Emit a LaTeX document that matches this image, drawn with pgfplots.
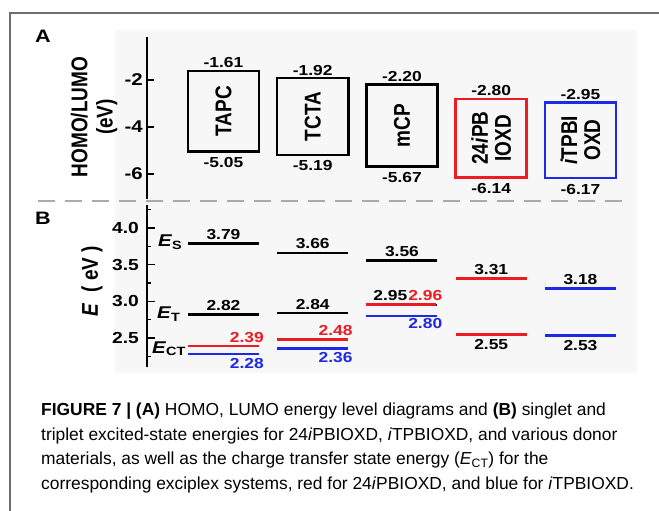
\documentclass[border=0pt]{standalone}
\usepackage{pgfplots}
\pgfplotsset{compat=1.18}
\usepackage{fontspec}
\setmainfont{Liberation Sans}
\newfontfamily\figfont[FakeStretch=1.2]{Liberation Sans}
\newcommand{\fs}[1]{\fontsize{#1bp}{#1bp}\selectfont}
\definecolor{lred}{RGB}{236,28,36}
\definecolor{lblue}{RGB}{30,40,230}
\definecolor{framegray}{RGB}{110,110,110}
\definecolor{dashgray}{RGB}{170,170,170}
\definecolor{bggray}{RGB}{247,247,247}
\begin{document}
\begin{tikzpicture}[x=1bp,y=1bp]
\useasboundingbox (0,0) rectangle (659,511);
% background of figure panels
\fill[bggray] (115,481) rectangle (637,138);
% frame
\draw[framegray, line width=1.5bp] (10,0) -- (10,498) -- (660,498);
% dashed separator
\draw[dashgray, line width=2.5bp, dash pattern=on 17bp off 10bp] (38,310) -- (627,310);
% panel letters
\node[font=\figfont\bfseries\fs{18}] at (43,475) {A};
\node[font=\figfont\bfseries\fs{18}] at (43,293) {B};

% ---------------- Panel A ----------------
\begin{axis}[
  at={(147bp,312.3bp)}, anchor=south west,
  scale only axis, width=487bp, height=162.15bp,
  xmin=0.1429, xmax=5.6, ymin=-7.05, ymax=-0.15,
  axis x line=none, axis y line=left,
  y axis line style={-, line width=2.2bp, black},
  ytick={-6,-4,-2}, yticklabels={-6,-4,-2},
  tick align=inside, major tick length=7bp,
  ytick style={line width=1.5bp, black},
  yticklabel style={font=\figfont\bfseries\fs{17}, inner sep=0pt, xshift=-4bp},
  every axis y label/.style={at={(axis description cs:-0.1088,0.504)}, anchor=center, rotate=90, yscale=1.2, align=center, font=\bfseries\fs{19}},
  ylabel={HOMO/LUMO\\[2bp](eV)},
  clip=false,
]
\addplot[black, line width=2.5bp] coordinates {(0.602,-1.61) (1.398,-1.61) (1.398,-5.05) (0.602,-5.05)} -- cycle;
\addplot[black, line width=2.5bp] coordinates {(1.602,-1.92) (2.398,-1.92) (2.398,-5.19) (1.602,-5.19)} -- cycle;
\addplot[black, line width=2.5bp] coordinates {(2.602,-2.20) (3.398,-2.20) (3.398,-5.67) (2.602,-5.67)} -- cycle;
\addplot[lred, line width=2.5bp] coordinates {(3.602,-2.80) (4.398,-2.80) (4.398,-6.14) (3.602,-6.14)} -- cycle;
\addplot[lblue, line width=2.5bp] coordinates {(4.602,-2.95) (5.398,-2.95) (5.398,-6.17) (4.602,-6.17)} -- cycle;
\begin{scope}[every node/.style={font=\figfont\bfseries\fs{14.5}, anchor=base}]
\node[yshift=3bp] at (axis cs:1,-1.61) {-1.61};
\node[yshift=-16bp] at (axis cs:1,-5.05) {-5.05};
\node[yshift=3bp] at (axis cs:2,-1.92) {-1.92};
\node[yshift=-16bp] at (axis cs:2,-5.19) {-5.19};
\node[yshift=3bp] at (axis cs:3,-2.20) {-2.20};
\node[yshift=-16bp] at (axis cs:3,-5.67) {-5.67};
\node[yshift=3bp] at (axis cs:4,-2.80) {-2.80};
\node[yshift=-16bp] at (axis cs:4,-6.14) {-6.14};
\node[yshift=3bp] at (axis cs:5,-2.95) {-2.95};
\node[yshift=-16bp] at (axis cs:5,-6.17) {-6.17};
\end{scope}
\begin{scope}[every node/.style={font=\bfseries\fs{19}, rotate=90, yscale=1.2, anchor=center, align=center}]
\node at (axis cs:1,-3.33) {TAPC};
\node at (axis cs:2,-3.555) {TCTA};
\node at (axis cs:3,-3.935) {mCP};
\node at (axis cs:4,-4.47) {24\textit{i}PB\\[0bp]IOXD};
\node at (axis cs:5,-4.56) {\textit{i}TPBI\\[0bp]OXD};
\end{scope}
\end{axis}

% ---------------- Panel B ----------------
\begin{axis}[
  at={(147bp,143.7bp)}, anchor=south west,
  scale only axis, width=487bp, height=162bp,
  xmin=0.1429, xmax=5.6, ymin=2.1, ymax=4.31,
  axis x line=none, axis y line=left,
  y axis line style={-, line width=2.2bp, black},
  ytick={2.5,3.0,3.5,4.0}, yticklabels={2.5,3.0,3.5,4.0},
  minor ytick={2.25,2.75,3.25,3.75,4.25},
  tick align=inside, major tick length=8bp, minor tick length=4bp,
  ytick style={line width=1.5bp, black},
  minor tick style={line width=1.5bp, black},
  yticklabel style={font=\figfont\bfseries\fs{16}, inner sep=0pt, xshift=-8bp},
  every axis y label/.style={at={(axis description cs:-0.113,0.533)}, anchor=center, rotate=90, yscale=1.2, font=\bfseries\fs{19}},
  ylabel={\textit{E}\ \ ( eV )},
  clip=false,
]
% TAPC
\addplot[black, line width=2.8bp] coordinates {(0.602,3.79) (1.398,3.79)};
\addplot[black, line width=2.8bp] coordinates {(0.602,2.82) (1.398,2.82)};
\addplot[lred, line width=2.8bp] coordinates {(0.602,2.39) (1.398,2.39)};
\addplot[lblue, line width=2.8bp] coordinates {(0.602,2.28) (1.398,2.28)};
% TCTA
\addplot[black, line width=2.8bp] coordinates {(1.602,3.66) (2.398,3.66)};
\addplot[black, line width=2.8bp] coordinates {(1.602,2.84) (2.398,2.84)};
\addplot[lred, line width=2.8bp] coordinates {(1.602,2.48) (2.398,2.48)};
\addplot[lblue, line width=2.8bp] coordinates {(1.602,2.36) (2.398,2.36)};
% mCP
\addplot[black, line width=2.8bp] coordinates {(2.602,3.56) (3.398,3.56)};
\addplot[black, line width=2.8bp] coordinates {(2.602,2.95) (3.398,2.95)};
\addplot[lred, line width=2.8bp] coordinates {(2.602,2.96) (3.380,2.96)};
\addplot[lblue, line width=2.8bp] coordinates {(2.602,2.80) (3.398,2.80)};
% 24iPBIOXD
\addplot[lred, line width=2.8bp] coordinates {(3.602,3.31) (4.398,3.31)};
\addplot[lred, line width=2.8bp] coordinates {(3.602,2.55) (4.398,2.55)};
% iTPBIOXD
\addplot[lblue, line width=2.8bp] coordinates {(4.602,3.18) (5.398,3.18)};
\addplot[lblue, line width=2.8bp] coordinates {(4.602,2.53) (5.398,2.53)};
\begin{scope}[every node/.style={font=\figfont\bfseries\fs{14.5}, anchor=base}]
\node[yshift=4bp] at (axis cs:1,3.79) {3.79};
\node[yshift=4bp] at (axis cs:1,2.82) {2.82};
\node[yshift=4bp, anchor=base east, text=lred] at (axis cs:1.49,2.39) {2.39};
\node[yshift=-14bp, anchor=base east, text=lblue] at (axis cs:1.49,2.28) {2.28};
\node[yshift=4bp] at (axis cs:2,3.66) {3.66};
\node[yshift=4bp] at (axis cs:2,2.84) {2.84};
\node[yshift=4bp, anchor=base east, text=lred] at (axis cs:2.485,2.48) {2.48};
\node[yshift=-14bp, anchor=base east, text=lblue] at (axis cs:2.485,2.36) {2.36};
\node[yshift=4bp] at (axis cs:3,3.56) {3.56};
\node[yshift=4bp] at (axis cs:2.87,2.96) {2.95};
\node[yshift=4bp, anchor=base east, text=lred] at (axis cs:3.49,2.96) {2.96};
\node[yshift=-13bp, anchor=base east, text=lblue] at (axis cs:3.49,2.80) {2.80};
\node[yshift=4bp] at (axis cs:4,3.31) {3.31};
\node[yshift=-15bp] at (axis cs:4,2.55) {2.55};
\node[yshift=4bp] at (axis cs:5,3.18) {3.18};
\node[yshift=-15bp] at (axis cs:5,2.53) {2.53};
\end{scope}
\begin{scope}[every node/.style={font=\figfont\bfseries\fs{17}, anchor=base east, inner sep=0pt}]
\node[yshift=-3bp] at (axis cs:0.535,3.79) {\textit{E}\raisebox{-3bp}{\fs{12}S}};
\node[yshift=-3.5bp] at (axis cs:0.515,2.82) {\textit{E}\raisebox{-3bp}{\fs{12}T}};
\node at (axis cs:0.575,2.295) {\textit{E}\raisebox{-2bp}{\fs{12}CT}};
\end{scope}
\end{axis}

% ---------------- Caption ----------------
\begin{scope}[every node/.style={anchor=base west, inner sep=0pt, font=\fs{17.4}}]
\node at (41,95) {\textbf{FIGURE 7 | (A)} HOMO, LUMO energy level diagrams and \textbf{(B)} singlet and};
\node at (41,70.5) {triplet excited-state energies for 24\textit{i}PBIOXD, \textit{i}TPBIOXD, and various donor};
\node at (41,46) {materials, as well as the charge transfer state energy (\textit{E}\textsubscript{CT}) for the};
\node at (41,21.5) {corresponding exciplex systems, red for 24\textit{i}PBIOXD, and blue for \textit{i}TPBIOXD.};
\end{scope}
\end{tikzpicture}
\end{document}
